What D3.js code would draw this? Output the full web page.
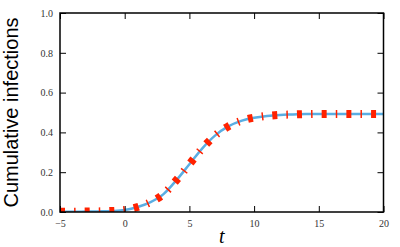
<!DOCTYPE html>
<html>
<head>
<meta charset="utf-8">
<script src="https://cdn.jsdelivr.net/npm/d3@7"></script>
<style>
  body { margin: 0; background: #fff; }
  svg { display: block; }
</style>
</head>
<body>
<div id="chart"></div>
<script>
// data
var tValues = [-5, -4, -3, -2, -1, 0, 1, 2, 3, 4, 5, 6, 7, 8, 9, 10, 11, 12, 13, 14, 15, 16, 17, 18, 19, 20];
var infections = [0.001, 0.001, 0.002, 0.003, 0.005, 0.01, 0.025, 0.05, 0.09, 0.16, 0.24, 0.32, 0.385, 0.43, 0.458, 0.474, 0.483, 0.488, 0.49, 0.492, 0.493, 0.493, 0.493, 0.493, 0.493, 0.493];
var xTicks = [-5, 0, 5, 10, 15, 20];
var yTicks = [0, 0.2, 0.4, 0.6, 0.8, 1.0];

var width = 400,
    height = 247,
    margin = {top: 13, right: 16.5, bottom: 35, left: 60};

var svg = d3.select("#chart").append("svg")
    .attr("width", width)
    .attr("height", height);

var x = d3.scaleLinear()
    .domain([-5, 20])
    .range([margin.left, width - margin.right]);

var y = d3.scaleLinear()
    .domain([0, 1])
    .range([height - margin.bottom, margin.top]);

var points = tValues.map(function(t, i) { return [t, infections[i]]; });

var line = d3.line()
    .x(function(d) { return x(d[0]); })
    .y(function(d) { return y(d[1]); })
    .curve(d3.curveMonotoneX);

svg.append("defs").append("clipPath")
    .attr("id", "plotClip")
  .append("rect")
    .attr("x", x(-5))
    .attr("y", y(1))
    .attr("width", x(20) - x(-5))
    .attr("height", y(0) - y(1));

var plot = svg.append("g").attr("clip-path", "url(#plotClip)");

// smooth blue curve
plot.append("path")
    .datum(points)
    .attr("d", line)
    .style("fill", "none")
    .style("stroke", "#5aaee3")
    .style("stroke-width", 2.5);

// thick red dash-dot line on top
plot.append("path")
    .datum(points)
    .attr("d", line)
    .style("fill", "none")
    .style("stroke", "#ff2200")
    .style("stroke-width", 8)
    .style("stroke-dasharray", "5,9.1,1.5,9.1");

// axes, ticks pointing inwards
var tickLen = 6;
var xAxisB = d3.axisBottom(x).tickValues(xTicks).tickSize(-tickLen).tickPadding(8)
    .tickFormat(function(d) { return d < 0 ? "\u2212" + Math.abs(d) : d; });
var xAxisT = d3.axisTop(x).tickValues(xTicks).tickSize(-tickLen).tickFormat("");
var yAxisL = d3.axisLeft(y).tickValues(yTicks).tickSize(-tickLen).tickPadding(7)
    .tickFormat(d3.format(".1f"));
var yAxisR = d3.axisRight(y).tickValues(yTicks).tickSize(-tickLen).tickFormat("");

var axes = [
  svg.append("g").attr("transform", "translate(0," + y(0) + ")").call(xAxisB),
  svg.append("g").attr("transform", "translate(0," + y(1) + ")").call(xAxisT),
  svg.append("g").attr("transform", "translate(" + x(-5) + ",0)").call(yAxisL),
  svg.append("g").attr("transform", "translate(" + x(20) + ",0)").call(yAxisR)
];

axes.forEach(function(g) {
  g.select(".domain").remove();
  g.selectAll(".tick line").style("stroke", "#000").style("stroke-width", 1);
  g.selectAll(".tick text")
      .style("font-family", "'Liberation Serif', 'DejaVu Serif', serif")
      .style("font-size", "10px")
      .style("fill", "#333");
});

// frame
svg.append("rect")
    .attr("x", x(-5))
    .attr("y", y(1))
    .attr("width", x(20) - x(-5))
    .attr("height", y(0) - y(1))
    .style("fill", "none")
    .style("stroke", "#000")
    .style("stroke-width", 1.5);

// labels
svg.append("text")
    .attr("transform", "translate(18," + ((y(0) + y(1)) / 2) + ") rotate(-90)")
    .style("text-anchor", "middle")
    .style("font-family", "'Liberation Sans', Arial, sans-serif")
    .style("font-size", "20px")
    .text("Cumulative infections");

svg.append("text")
    .attr("x", (x(-5) + x(20)) / 2)
    .attr("y", 243)
    .style("text-anchor", "middle")
    .style("font-family", "'Liberation Serif', 'DejaVu Serif', serif")
    .style("font-style", "italic")
    .style("font-size", "20px")
    .text("t");
</script>
</body>
</html>
